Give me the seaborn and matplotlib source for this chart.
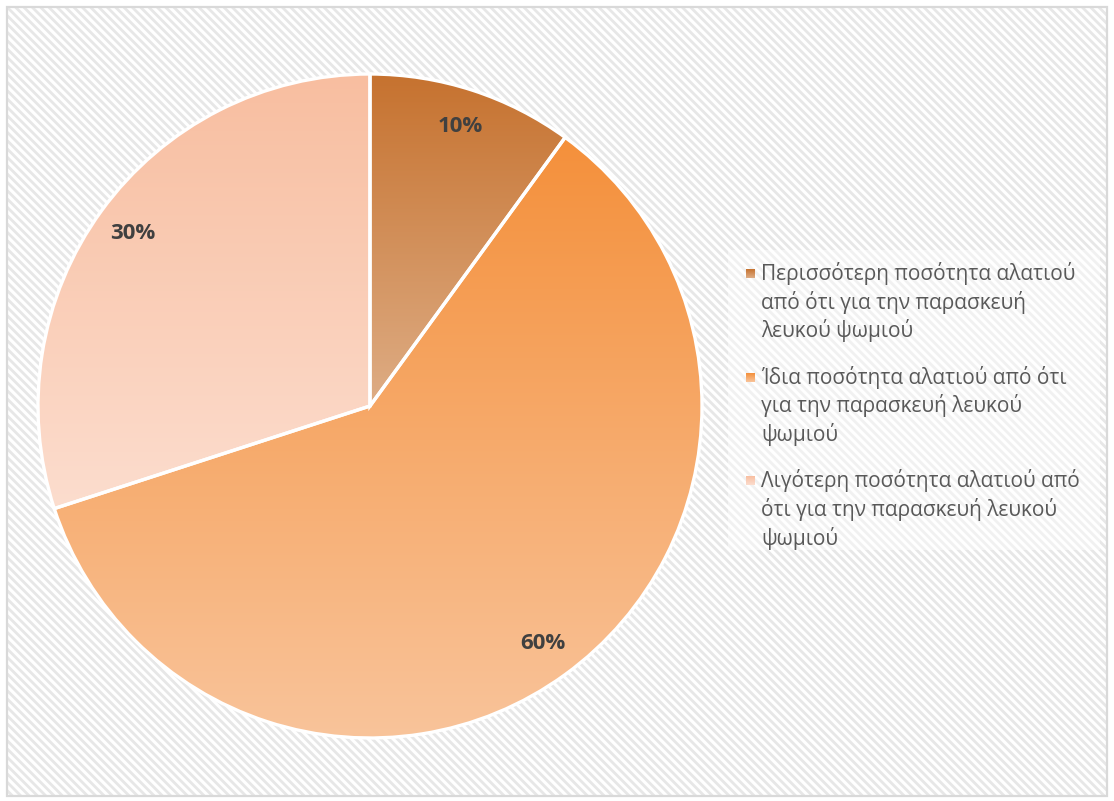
import numpy as np
import matplotlib
matplotlib.use("Agg")
import matplotlib.pyplot as plt
from matplotlib.patches import Rectangle
import seaborn as sns

# Survey answers: amount of salt compared with white bread
labels = [
    "Περισσότερη ποσότητα αλατιού\nαπό ότι για την παρασκευή\nλευκού ψωμιού",
    "Ίδια ποσότητα αλατιού από ότι\nγια την παρασκευή λευκού\nψωμιού",
    "Λιγότερη ποσότητα αλατιού από\nότι για την παρασκευή λευκού\nψωμιού",
]
values = [10, 60, 30]

# Vertical gradient (top -> bottom) for each slice
grad_top = ["#C6722F", "#F4903B", "#F8BEA0"]
grad_bottom = ["#DEAD85", "#F9C49B", "#FCDDCE"]

sns.set_theme(style="white")
plt.rcParams["font.family"] = ["Open Sans", "DejaVu Sans"]
plt.rcParams["hatch.linewidth"] = 2.0

W, H = 1114, 801
fig = plt.figure(figsize=(W / 100, H / 100), dpi=100)
fig.patch.set_facecolor("white")

# Background layer in pixel coordinates
bg = fig.add_axes([0, 0, 1, 1], zorder=0)
bg.set_xlim(0, W)
bg.set_ylim(H, 0)
bg.axis("off")
bg.add_patch(Rectangle((7, 7), 1100, 789, facecolor="white", edgecolor="#E7E7E7",
                       hatch="\\\\\\\\", lw=0))
bg.add_patch(Rectangle((7, 7), 1100, 789, facecolor="none", edgecolor="#D9D9D9", lw=1.6))

# Pie
cx, cy, r = 370, 406, 332
ax = fig.add_axes([(cx - r) / W, (H - cy - r) / H, 2 * r / W, 2 * r / H], zorder=1)
ax.patch.set_alpha(0)

wedges, texts, autotexts = ax.pie(
    values, startangle=90, counterclock=False, radius=1,
    autopct="%1.0f%%", pctdistance=0.885,
    wedgeprops=dict(edgecolor="white", linewidth=2.4),
    textprops=dict(color="#404040", fontsize=16, fontweight="bold"),
)

grad = np.linspace(0, 1, 256).reshape(-1, 1)
for w, c0, c1 in zip(wedges, grad_top, grad_bottom):
    verts = w.get_patch_transform().transform(w.get_path().vertices)
    x0, x1 = verts[:, 0].min(), verts[:, 0].max()
    y0, y1 = verts[:, 1].min(), verts[:, 1].max()
    cmap = sns.blend_palette([c0, c1], as_cmap=True)
    im = ax.imshow(grad, cmap=cmap, extent=[x0, x1, y0, y1], aspect="auto",
                   origin="upper", zorder=0.5, interpolation="bilinear")
    im.set_clip_path(w)
    w.set_facecolor("none")
    w.set_zorder(1)
    w.set_clip_on(False)
for t in autotexts:
    t.set_zorder(3)

ax.set_xlim(-1, 1)
ax.set_ylim(-1, 1)
ax.set_aspect("auto")
ax.axis("off")

# Legend panel
bg.add_patch(Rectangle((728, 250), 372, 300, facecolor="white", alpha=0.45, lw=0))
line_pitch = 28.7
item_pitch = 103.7
first_y = 273.5
for k, (lab, c0, c1) in enumerate(zip(labels, grad_top, grad_bottom)):
    y = first_y + k * item_pitch
    cmap = sns.blend_palette([c0, c1], as_cmap=True)
    bg.imshow(grad, cmap=cmap, extent=[745.5, 754.5, y + 4.5, y - 4.5],
              aspect="auto", origin="upper", zorder=3)
    for i, line in enumerate(lab.split("\n")):
        bg.text(761, y + i * line_pitch, line, fontsize=15, color="#595959",
                va="center", ha="left", zorder=4)
bg.set_xlim(0, W)
bg.set_ylim(H, 0)

fig.savefig("out.png", dpi=100)
